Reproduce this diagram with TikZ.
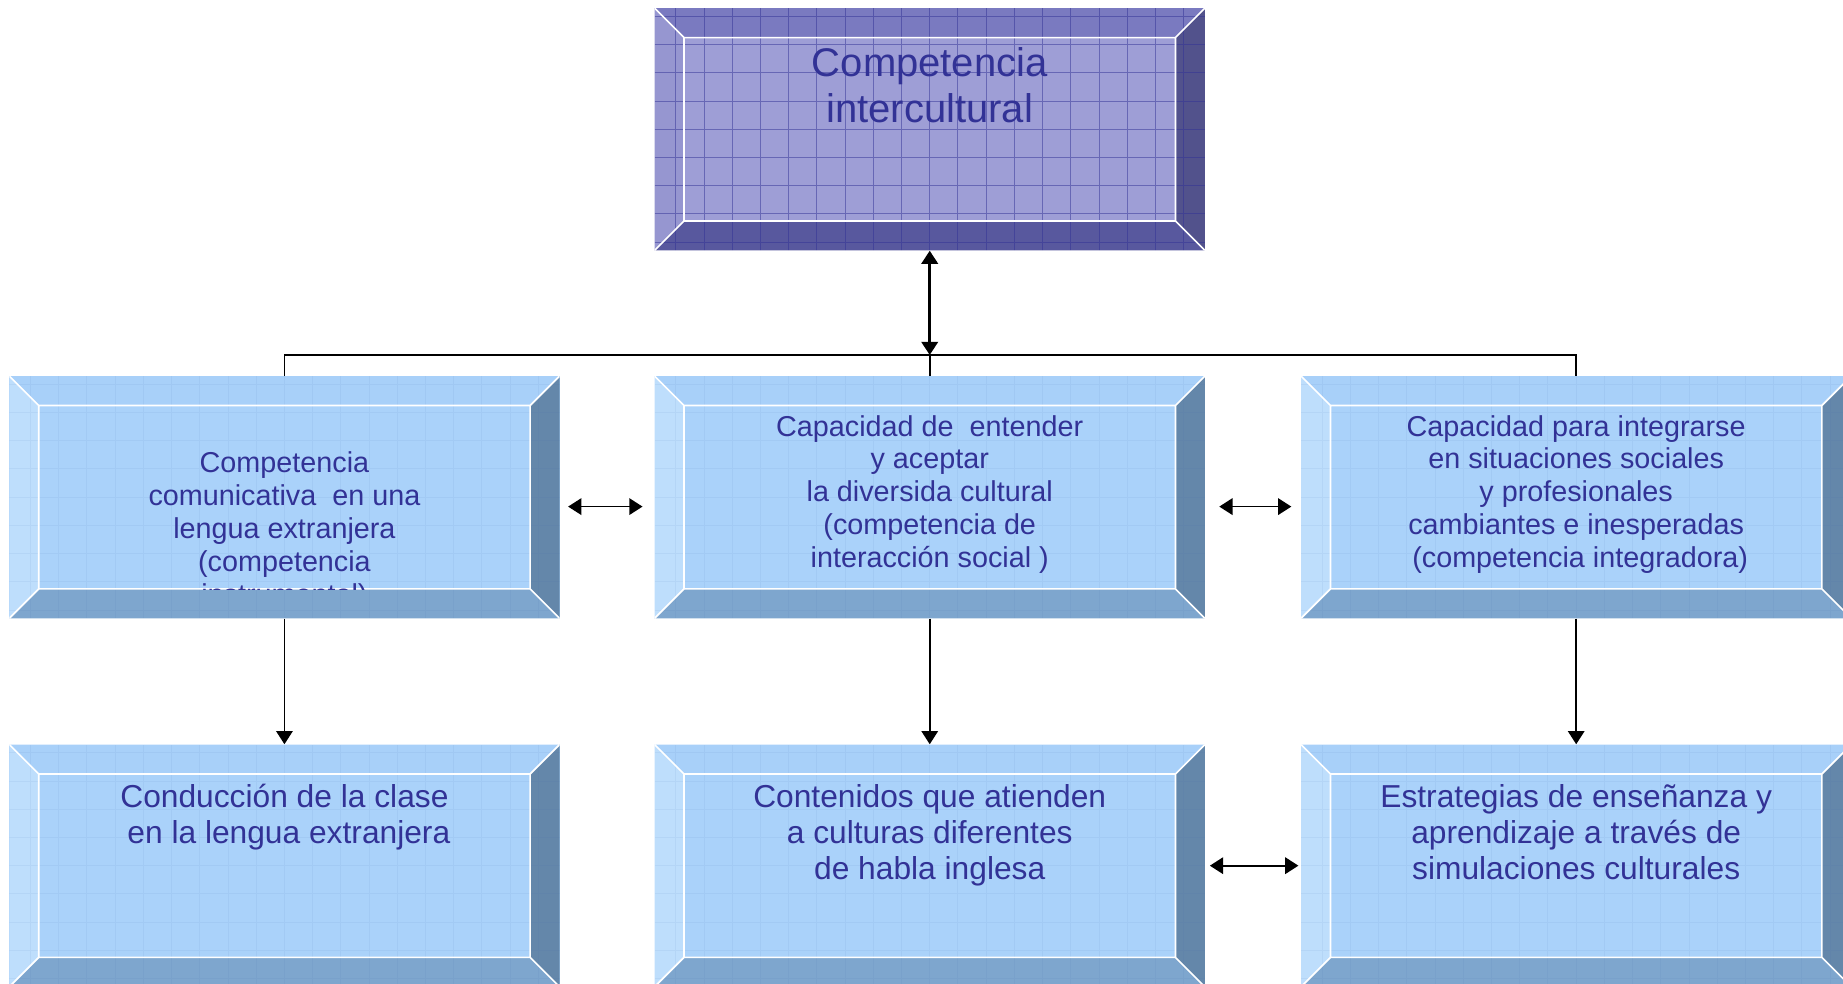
\documentclass[tikz,border=0pt]{standalone}
\usepackage{fontspec}
\setmainfont{Liberation Sans}
\usetikzlibrary{calc,arrows.meta}

\definecolor{facelight}{RGB}{170,210,250}
\definecolor{toplight}{RGB}{168,208,249}
\definecolor{leftlight}{RGB}{190,222,252}
\definecolor{rightlight}{RGB}{100,135,170}
\definecolor{botlight}{RGB}{126,166,206}
\definecolor{gridlight}{RGB}{60,100,170}
\definecolor{facepurple}{RGB}{158,158,214}
\definecolor{toppurple}{RGB}{122,122,192}
\definecolor{leftpurple}{RGB}{150,150,208}
\definecolor{rightpurple}{RGB}{82,82,140}
\definecolor{botpurple}{RGB}{88,88,158}
\definecolor{gridpurple}{RGB}{50,50,150}
\definecolor{textblue}{RGB}{50,50,150}

\newcommand{\bevw}{0.625cm}
% bevelled frame: top, left, right, bottom colour, grid options
\newcommand{\bevelfill}[5]{%
  \coordinate (bsw) at (path picture bounding box.south west);
  \coordinate (bne) at (path picture bounding box.north east);
  \coordinate (bnw) at (path picture bounding box.north west);
  \coordinate (bse) at (path picture bounding box.south east);
  \coordinate (isw) at ($(bsw)+(\bevw,\bevw)$);
  \coordinate (ine) at ($(bne)-(\bevw,\bevw)$);
  \coordinate (inw) at ($(bnw)+(\bevw,-\bevw)$);
  \coordinate (ise) at ($(bse)+(-\bevw,\bevw)$);
  \fill[#1] (bnw) -- (bne) -- (ine) -- (inw) -- cycle;
  \fill[#2] (bnw) -- (inw) -- (isw) -- (bsw) -- cycle;
  \fill[#3] (bne) -- (bse) -- (ise) -- (ine) -- cycle;
  \fill[#4] (bsw) -- (isw) -- (ise) -- (bse) -- cycle;
  \draw[#5, line width=0.6pt, step=0.6cm] (bsw) grid (bne);
  \draw[white, line width=1pt] (bnw) -- (inw) (bne) -- (ine) (bsw) -- (isw) (bse) -- (ise) (isw) rectangle (ine);
}

\tikzset{
  lightbox/.style={rectangle, inner sep=0pt, minimum width=11.7cm, minimum height=5.15cm, fill=facelight,
    path picture={\bevelfill{toplight}{leftlight}{rightlight}{botlight}{gridlight,opacity=0.07}}},
  purplebox/.style={rectangle, inner sep=0pt, minimum width=11.7cm, minimum height=5.15cm, fill=facepurple,
    path picture={\bevelfill{toppurple}{leftpurple}{rightpurple}{botpurple}{gridpurple,opacity=0.5}}},
  toptext/.style={anchor=north, align=center, inner sep=0pt, text=textblue, font=\fontsize{24.2}{27.7}\selectfont},
  midtext/.style={anchor=north, align=center, inner sep=0pt, text=textblue, font=\fontsize{17.4}{19.9}\selectfont},
  lowtext/.style={anchor=north, align=center, inner sep=0pt, text=textblue, font=\fontsize{19.2}{21.7}\selectfont},
  arr/.style={-{Triangle[length=8pt,width=10pt]}, line width=1pt},
  dblarr/.style={{Triangle[length=8pt,width=10pt]}-{Triangle[length=8pt,width=10pt]}, line width=1pt}
}

\begin{document}
\begin{tikzpicture}[x=0.025cm, y=-0.025cm]
	\useasboundingbox (0,0) rectangle (1568,837);
	
	\node[purplebox] (inter)  at (791, 110)   {};
	\node[lightbox]  (comu)   at (242, 423)   {};
	\node[lightbox]  (divers) at (791, 423)   {};
	\node[lightbox]  (integ)  at (1341, 423)  {};
	\node[lightbox]  (clase)  at (242, 736.5) {};
	\node[lightbox]  (conten) at (791, 736.5) {};
	\node[lightbox]  (estrat) at (1341, 736.5){};
	
	\node[toptext] (tinter) at (791, 40) {Competencia\\ intercultural};
	\begin{scope}
		\clip ($(comu.south west)+(\bevw,\bevw)$) rectangle ($(comu.north east)-(\bevw,\bevw)$);
		\node[midtext] (tcomu) at (242, 384) {Competencia\\ comunicativa~ en una\\ lengua extranjera\\ (competencia\\ instrumental)};
	\end{scope}
	\node[midtext] (tdivers) at (791, 353)  {Capacidad de~ entender\\ y aceptar\\ la diversida cultural\\ (competencia de\\ interacción social )};
	\node[midtext] (tinteg)  at (1341, 353) {Capacidad para integrarse\\ en situaciones sociales\\ y profesionales\\ cambiantes e inesperadas\\ ~(competencia integradora)};
	\node[lowtext] (tclase)  at (242, 667)  {Conducción de la clase\\ ~en la lengua extranjera};
	\node[lowtext] (tconten) at (791, 667)  {Contenidos que atienden\\ a culturas diferentes\\ de habla inglesa};
	\node[lowtext] (testrat) at (1341, 667) {Estrategias de enseñanza y\\ aprendizaje a través de\\ simulaciones culturales};
	
	\coordinate (bus) at (791, 302);
	\draw[line width=1pt] (comu.north) |- (bus) -| (integ.north);
	\draw[line width=1pt] (divers.north) -- (bus);
	\draw[dblarr, line width=1.6pt] (inter.south) -- (bus);
	
	\path[arr] (comu) edge (clase);
	\path[arr] (divers) edge (conten);
	\path[arr] (integ) edge (estrat);
	
	\draw[dblarr, shorten <=0.175cm, shorten >=0.25cm] ([yshift=-0.2cm]comu.east) -- ([yshift=-0.2cm]divers.west);
	\draw[dblarr, shorten <=0.3cm, shorten >=0.2cm] ([yshift=-0.2cm]divers.east) -- ([yshift=-0.2cm]integ.west);
	\draw[dblarr, shorten <=0.1cm, shorten >=0.05cm] (conten.east) -- (estrat.west);
	
\end{tikzpicture}
\end{document}
